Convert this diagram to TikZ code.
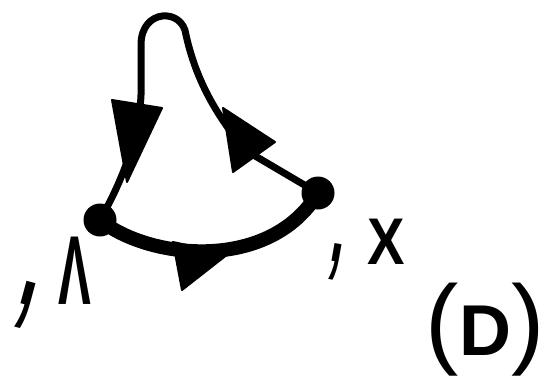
\documentclass[tikz,border=0pt]{standalone}
\usepackage{fontspec}
\setmainfont{Liberation Sans}
\begin{document}
\begin{tikzpicture}[x=1pt,y=-1pt,
  dot/.style={circle,fill=black,inner sep=0pt,minimum size=33pt},
  thin/.style={line width=7pt,line cap=round,line join=round},
  thick/.style={line width=14pt,line cap=round},
  head/.style={fill=black,draw=black,line width=2pt,line join=round},
  lab/.style={inner sep=0pt}]
\useasboundingbox (0,0) rectangle (546,391);
\node[dot] (A) at (100,220) {};
\node[dot] (B) at (318,193) {};
% loop
\draw[thin] (A.center) .. controls (120,185) and (139,140) .. (141,95) -- (141,45)
  .. controls (141,8) and (183,8) .. (186,35)
  .. controls (195,75) and (212,110) .. (245,150) -- (B.center);
% thick arc
\draw[thick] (A.center) .. controls (150,260) and (270,272) .. (B.center);
% arrowheads
\filldraw[head] (112,100) -- (162,108) -- (127,182) -- cycle;
\filldraw[head] (223,108) -- (275,142) -- (233,172) -- cycle;
\filldraw[head] (173,242) -- (228,254) -- (182,290) -- cycle;
% labels
\node[lab,font=\bfseries,rotate=-15,xscale=1.1,yscale=2.6] (c1) at (25,305) {\fontsize{60}{60}\selectfont ,};
\node[lab,font=\bfseries,xscale=0.5] (l1) at (75,271) {\fontsize{98}{98}\selectfont Λ};
\node[lab,font=\bfseries,rotate=-10,xscale=1.0,yscale=2.4] (c2) at (335,262) {\fontsize{50}{50}\selectfont ,};
\node[lab,font=\bfseries,xscale=0.85] (x1) at (386,242) {\fontsize{66}{66}\selectfont X};
\node[lab] (d1) at (485,330) {\fontsize{100}{100}\selectfont (\fontsize{72}{72}\selectfont\bfseries D\fontsize{100}{100}\selectfont\mdseries )};
\end{tikzpicture}
\end{document}
